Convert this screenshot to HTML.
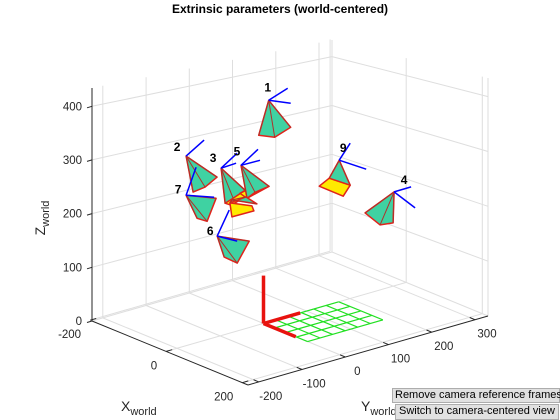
<!DOCTYPE html>
<html><head><meta charset="utf-8"><style>
html,body{margin:0;padding:0;background:#fff;}
#wrap{position:relative;width:560px;height:420px;overflow:hidden;font-family:"Liberation Sans",sans-serif;}
svg{position:absolute;left:0;top:0;}
.btn{position:absolute;background:#e1e1e1;border:1px solid #adadad;font-size:11px;color:#000;box-sizing:border-box;line-height:13px;white-space:nowrap;padding-left:2px;}
</style></head><body>
<div id="wrap">
<svg id="chart" width="560" height="420" viewBox="0 0 560 420">
<text x="280" y="13" text-anchor="middle" font-size="12" font-weight="bold" fill="#000">Extrinsic parameters (world-centered)</text>
<text transform="translate(45,218) rotate(-90)" font-size="14" fill="#262626" text-anchor="middle">Z<tspan font-size="11" dy="4">world</tspan></text>
<text x="121" y="411" font-size="14" fill="#262626">X<tspan font-size="11" dy="4">world</tspan></text>
<text x="361" y="411" font-size="14" fill="#262626">Y<tspan font-size="11" dy="4">world</tspan></text>
<g id="grid"></g><g id="axes"></g><g id="board"></g><g id="cams"></g>
</svg>
<div class="btn" style="left:392px;top:388px;width:168px;height:15px;">Remove camera reference frames</div>
<div class="btn" style="left:395px;top:404px;width:164px;height:16px;padding-left:3px;">Switch to camera-centered view</div>
</div>
<script>
// ---- data ----
const xTicks = [-200, 0, 200];
const yTicks = [-200, -100, 0, 100, 200, 300];
const zTicks = [0, 100, 200, 300, 400];
const camIds = ['1','2','3','4','5','6','7','8','9'];
const camX = [0, 0, 0, 0, 0, 0, 0, 0, 0];
const camY = [12, -179, -98, 302, -52, -107, -179, -73, 175];
const camZ = [408, 339, 303, 181, 300, 182, 269, 241, 267];
const boardCellsX = 4, boardCellsY = 6, boardCell = 29;

// ---- projection (approximate axes box) ----
const XR=[-195,215], YR=[-225,330], ZMAX=434;
const L=[92,321], F=[248,385], B=[332,252];
const HL=233, HF=257, HR=238, HB=212;
function P(X,Y,Z){
  const u=(X-XR[0])/(XR[1]-XR[0]), v=(Y-YR[0])/(YR[1]-YR[0]), w=Z/ZMAX;
  const fx=L[0]+u*(F[0]-L[0])+v*(B[0]-L[0]);
  const fy=L[1]+u*(F[1]-L[1])+v*(B[1]-L[1]);
  const h=HL*(1-u)*(1-v)+HF*u*(1-v)+HR*u*v+HB*(1-u)*v;
  return [fx, fy-w*h];
}
const NS='http://www.w3.org/2000/svg';
function mk(tag,attrs,parent){const e=document.createElementNS(NS,tag);for(const k in attrs)e.setAttribute(k,attrs[k]);parent.appendChild(e);return e;}
function seg(a,b,stroke,sw,parent,name){
  const e=mk('line',{x1:a[0].toFixed(1),y1:a[1].toFixed(1),x2:b[0].toFixed(1),y2:b[1].toFixed(1),stroke:stroke,'stroke-width':sw},parent);
  
  
  return e;
}
const grid=document.getElementById('grid'), axes=document.getElementById('axes');
const GC='#dedede';
xTicks.forEach(x=>seg(P(x,YR[0],0),P(x,YR[1],0),GC,1,grid,'floor-gridline-x'));
yTicks.forEach(y=>seg(P(XR[0],y,0),P(XR[1],y,0),GC,1,grid,'floor-gridline-y'));
yTicks.forEach(y=>seg(P(XR[0],y,0),P(XR[0],y,ZMAX),GC,1,grid,'wall-gridline-y'));
zTicks.forEach(z=>seg(P(XR[0],YR[0],z),P(XR[0],YR[1],z),GC,1,grid,'wall-gridline-z'));
seg(P(XR[0],YR[1],0),P(XR[0],YR[1],ZMAX),GC,1,grid,'back-edge');
xTicks.forEach(x=>seg(P(x,YR[1],0),P(x,YR[1],ZMAX),GC,1,grid,'wall-gridline-x'));
zTicks.forEach(z=>seg(P(XR[0],YR[1],z),P(XR[1],YR[1],z),GC,1,grid,'wall-gridline-z'));
seg(P(XR[1],YR[1],0),P(XR[1],YR[1],ZMAX),GC,1,grid,'right-edge');
const AC='#262626';
seg(P(XR[0],YR[0],0),P(XR[0],YR[0],ZMAX),AC,1,axes,'z-axis-line');
seg(P(XR[0],YR[0],0),P(XR[1],YR[0],0),AC,1,axes,'x-axis-line');
seg(P(XR[1],YR[0],0),P(XR[1],YR[1],0),AC,1,axes,'y-axis-line');
function txt(s,p,anchor,name){
  const t=mk('text',{x:p[0].toFixed(1),y:p[1].toFixed(1),'font-size':11.5,fill:'#262626','text-anchor':anchor},axes);
  t.textContent=s;
  
  
}
zTicks.forEach(z=>{const p=P(XR[0],YR[0],z);seg(p,[p[0]-5,p[1]+1.5],AC,1,axes,'z-tick');txt(String(z),[p[0]-10,p[1]+4],'end','z-tick-label');});
xTicks.forEach(x=>{const p=P(x,YR[0],0);const q=P(x,YR[0]+14,0);seg(p,q,AC,1,axes,'x-tick');txt(String(x),[p[0]-9,p[1]+18],'end','x-tick-label');});
yTicks.forEach(y=>{const p=P(XR[1],y,0);const q=P(XR[1]-14,y,0);seg(p,q,AC,1,axes,'y-tick');txt(String(y),[p[0]+12,p[1]+18],'middle','y-tick-label');});
const board=document.getElementById('board');
for(let i=0;i<=boardCellsX;i++){seg(P(i*boardCell,0,0),P(i*boardCell,boardCellsY*boardCell,0),'#22e022',1.2,board,'board-line');}
for(let j=0;j<=boardCellsY;j++){seg(P(0,j*boardCell,0),P(boardCellsX*boardCell,j*boardCell,0),'#22e022',1.2,board,'board-line');}
const o=P(0,0,0);
seg(o,P(85,0,0),'#e8130f',3.5,board,'world-x-axis');
seg(o,P(0,85,0),'#e8130f',3.5,board,'world-y-axis');
seg(o,P(0,0,88),'#e8130f',3.5,board,'world-z-axis');
const glyph={
 '1':{b:[[-10,35],[6,37],[22,27]],bl:[[19,-12],[22,3]],lab:[-1,-13]},
 '2':{b:[[7,36],[19,31],[31,21]],bl:[[18,-16]],lab:[-9,-9]},
 '3':{b:[[4,35],[12,30],[24,22]],y:[[4,35],[20,24],[27,27],[10,37]],bl:[[16,-15],[15,-5]],lab:[-8,-10]},
 '4':{b:[[-29,21],[-14,33],[-1,31]],bl:[[17,-5],[21,16]],lab:[10,-12]},
 '5':{b:[[6,33],[14,27],[28,21]],y:[[6,33],[28,21],[21,17],[-1,28]],bl:[[17,-16],[19,-5]],lab:[-4,-14]},
 '6':{b:[[7,21],[20,27],[32,5]],bl:[[12,-26],[20,5]],lab:[-7,-5]},
 '7':{b:[[11,23],[21,26],[30,3]],bl:[[10,-28],[28,2]],lab:[-8,-6]},
 '8':{b:[[-2,3],[14,-3],[25,4]],y:[[-2,3],[20,6],[22,11],[0,17]],bl:[],lab:null},
 '9':{b:[[-10,18],[11,25]],y:[[-20,26],[-10,18],[11,25],[4,36]],bl:[[11,-17],[27,9]],lab:[4,-12]}
};
const cams=document.getElementById('cams');
const TEAL='#3fd2a2', RED='#e0231b';
camIds.forEach((id,i)=>{
  const a=P(camX[i],camY[i],camZ[i]);
  const g=glyph[id];
  const grp=mk('g',{},cams);
  
  
  const pts=g.b.map(d=>[a[0]+d[0],a[1]+d[1]]);
  if(g.y){
    const yp=g.y.map(d=>(a[0]+d[0]).toFixed(1)+','+(a[1]+d[1]).toFixed(1)).join(' ');
    const yy=mk('polygon',{points:yp,fill:'#ffea00',stroke:RED,'stroke-width':1.5,'stroke-linejoin':'round'},grp);
    
    
  }
  const poly=[a].concat(pts).map(p=>p[0].toFixed(1)+','+p[1].toFixed(1)).join(' ');
  const pg=mk('polygon',{points:poly,fill:TEAL,stroke:RED,'stroke-width':1.5,'stroke-linejoin':'round'},grp);
  
  
  pts.forEach(p=>seg(a,p,'#b0302a',1,grp,'camera-edge'));
  g.bl.forEach(d=>seg(a,[a[0]+d[0],a[1]+d[1]],'#0000ff',1.5,grp,'camera-axis'));
  if(g.lab){
    const t=mk('text',{x:(a[0]+g.lab[0]).toFixed(1),y:(a[1]+g.lab[1]+4).toFixed(1),'font-size':12,'font-weight':'bold',fill:'#000','text-anchor':'middle'},grp);
    t.textContent=id;
    
    
  }
});
</script>
</body></html>
